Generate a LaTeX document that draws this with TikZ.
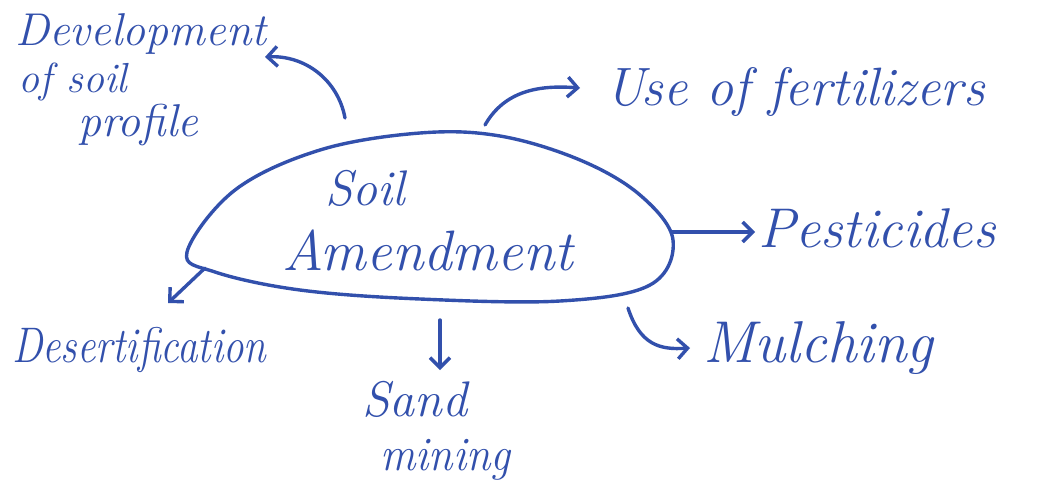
\documentclass[tikz,border=0pt]{standalone}
\usetikzlibrary{arrows.meta}
\definecolor{ink}{RGB}{50,80,172}
\begin{document}
\begin{tikzpicture}[x=1pt,y=-1pt,
  pen/.style={draw=ink,line width=3.4pt,line cap=round,line join=round},
  arr/.style={pen,-{Straight Barb[length=10pt,width=20pt,line width=3.4pt]}},
  lbl/.style={text=ink,inner sep=0pt,anchor=base west,font=\fontsize{#1}{#1}\selectfont\itshape},
  lbl/.default=50]
\fill[white] (0,0) rectangle (1039,490);
\useasboundingbox (0,0) rectangle (1039,490);

% the central blob
\draw[pen] plot[smooth cycle,tension=0.6] coordinates
  {(187,252) (235,190) (320,150) (420,133) (500,136) (580,160) (640,195) (673,240)
   (650,285) (560,301) (420,299) (300,290) (215,272)};
\node[lbl=50] (soil) at (325,205) {Soil};
\node[lbl=57] (amend) at (282,270) {Amendment};

% labels around the blob
\node[lbl=46] (dev1) at (15,45) {Development};
\node[lbl=42] (dev2) at (18,92) {of soil};
\node[lbl=46] (dev3) at (78,136) {profile};
\node[lbl=54] (fert) at (605,105) {Use of fertilizers};
\node[lbl=56] (pest) at (758,247) {Pesticides};
\node[lbl=59] (mulch) at (703,362) {Mulching};
\node[lbl=50,xscale=0.82,anchor=base west] (desert) at (12,362) {Desertification};
\node[lbl=50] (sand1) at (362,416) {Sand};
\node[lbl=48,xscale=0.92] (sand2) at (380,470) {mining};

% arrow end points
\coordinate (a1s) at (345,118); \coordinate (a1e) at (265,57);
\coordinate (a2s) at (485,125); \coordinate (a2e) at (580,88);
\coordinate (a3s) at (672,232); \coordinate (a3e) at (755,232);
\coordinate (a4s) at (628,308); \coordinate (a4e) at (690,348);
\coordinate (a5s) at (440,320); \coordinate (a5e) at (440,370);
\coordinate (a6s) at (205,268); \coordinate (a6e) at (168,303);

\draw[arr] (a1s) .. controls (338,80) and (305,55) .. (a1e);
\draw[arr] (a2s) .. controls (505,90) and (540,85) .. (a2e);
\draw[arr] (a3s) -- (a3e);
\draw[arr] (a4s) .. controls (640,345) and (660,350) .. (a4e);
\draw[arr] (a5s) -- (a5e);
\draw[arr] (a6s) -- (a6e);
\end{tikzpicture}
\end{document}
